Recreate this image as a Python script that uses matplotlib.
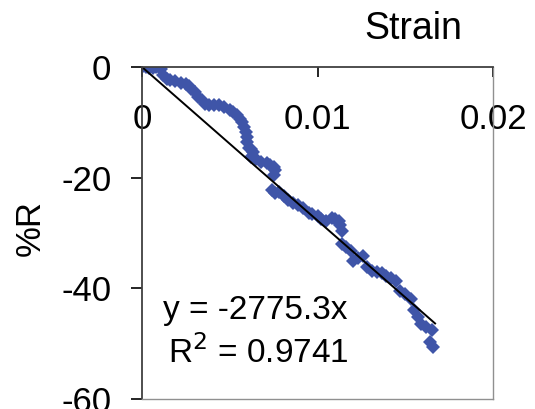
import matplotlib.pyplot as plt
import numpy as np

plt.rcParams['font.family'] = ['Liberation Sans', 'DejaVu Sans']

# measured points (strain, %R)
strain = [0.0, 0.0002, 0.0004, 0.0006, 0.0008, 0.0010, 0.0011, 0.0012, 0.0014,
          0.0016, 0.0019, 0.0022, 0.0025, 0.0027, 0.0028, 0.0030, 0.0032, 0.0034,
          0.0036, 0.0038, 0.0041, 0.0044, 0.0047, 0.0050, 0.0052, 0.0054, 0.0056,
          0.0057, 0.0058, 0.0059, 0.0060, 0.0060, 0.0061, 0.0062, 0.0063, 0.0062,
          0.0065, 0.0068, 0.0071, 0.0073, 0.0075, 0.0076, 0.0075, 0.0074, 0.0076,
          0.0078, 0.0081, 0.0083, 0.0086, 0.0089, 0.0092, 0.0095, 0.0097, 0.0100,
          0.0102, 0.0105, 0.0108, 0.0110, 0.0112, 0.0113, 0.0114, 0.0114, 0.0116,
          0.0119, 0.0120, 0.0123, 0.0126, 0.0128, 0.0131, 0.0134, 0.0137, 0.0139,
          0.0142, 0.0145, 0.0147, 0.0150, 0.0153, 0.0155, 0.0157, 0.0159, 0.0162,
          0.0165, 0.0164, 0.0166]
pct_r = [0.0, 0.0, -0.1, -0.1, 0.0, -0.1, -0.3, -1.5, -2.1,
         -2.4, -2.6, -2.9, -3.0, -3.4, -3.9, -4.6, -5.4, -6.0,
         -6.6, -6.8, -6.9, -6.9, -7.2, -7.8, -8.2, -8.7, -9.4,
         -9.9, -10.8, -11.7, -12.6, -13.5, -14.7, -14.9, -15.3, -16.2,
         -16.6, -17.1, -17.4, -17.8, -18.0, -18.6, -19.5, -22.2, -22.8,
         -22.6, -23.4, -24.0, -24.6, -25.0, -25.5, -26.3, -26.6, -26.9,
         -27.4, -27.8, -27.3, -27.5, -27.9, -28.5, -29.6, -32.0, -32.6,
         -33.2, -35.0, -34.6, -34.1, -36.2, -36.8, -37.1, -37.3, -37.7,
         -38.1, -38.6, -40.4, -41.0, -41.9, -44.0, -45.2, -46.4, -47.0,
         -47.6, -49.7, -50.6]

slope = -2775.3
fit_x = [0.0, 0.0167]
x_ticks = [0, 0.01, 0.02]
x_labels = ['0', '0.01', '0.02']
y_ticks = [0, -20, -40, -60]
y_labels = ['0', '-20', '-40', '-60']

fig = plt.figure(figsize=(5.35, 4.09), dpi=100)
ax = fig.add_axes([142/535, 1 - 399/409, (493 - 142)/535, (399 - 67)/409])

ax.plot(strain, pct_r, linestyle='none', marker='D', markersize=7.5,
        color='#3f55a8', markeredgewidth=0)
ax.plot(fit_x, [slope * v for v in fit_x], color='black', linewidth=1.4)

ax.set_xlim(0, 0.02)
ax.set_ylim(-60, 0)
ax.set_xticks(x_ticks)
ax.set_xticklabels(x_labels)
ax.set_yticks(y_ticks)
ax.set_yticklabels(y_labels)

ax.tick_params(axis='x', top=True, bottom=False, labeltop=True, labelbottom=False,
               direction='in', length=7, width=1.2, labelsize=25, pad=-50)
ax.tick_params(axis='y', direction='out', length=8, width=1.2, labelsize=25, pad=14)
for side in ['left', 'top']:
    ax.spines[side].set_color('#404040')
    ax.spines[side].set_linewidth(1.3)
for side in ['right', 'bottom']:
    ax.spines[side].set_color('#909090')
    ax.spines[side].set_linewidth(1.0)

ax.text(0.0012, -45.5, 'y = -2775.3x', fontsize=24, va='baseline')
ax.text(0.0015, -53.5, 'R$^2$ = 0.9741', fontsize=24, va='baseline')

fig.text(413/535, 1 - 29/409, 'Strain', fontsize=27, ha='center', va='center')
fig.text(30/535, 1 - 228/409, '%R', fontsize=25, ha='center', va='center', rotation=90)

fig.savefig('out.png', dpi=100)
